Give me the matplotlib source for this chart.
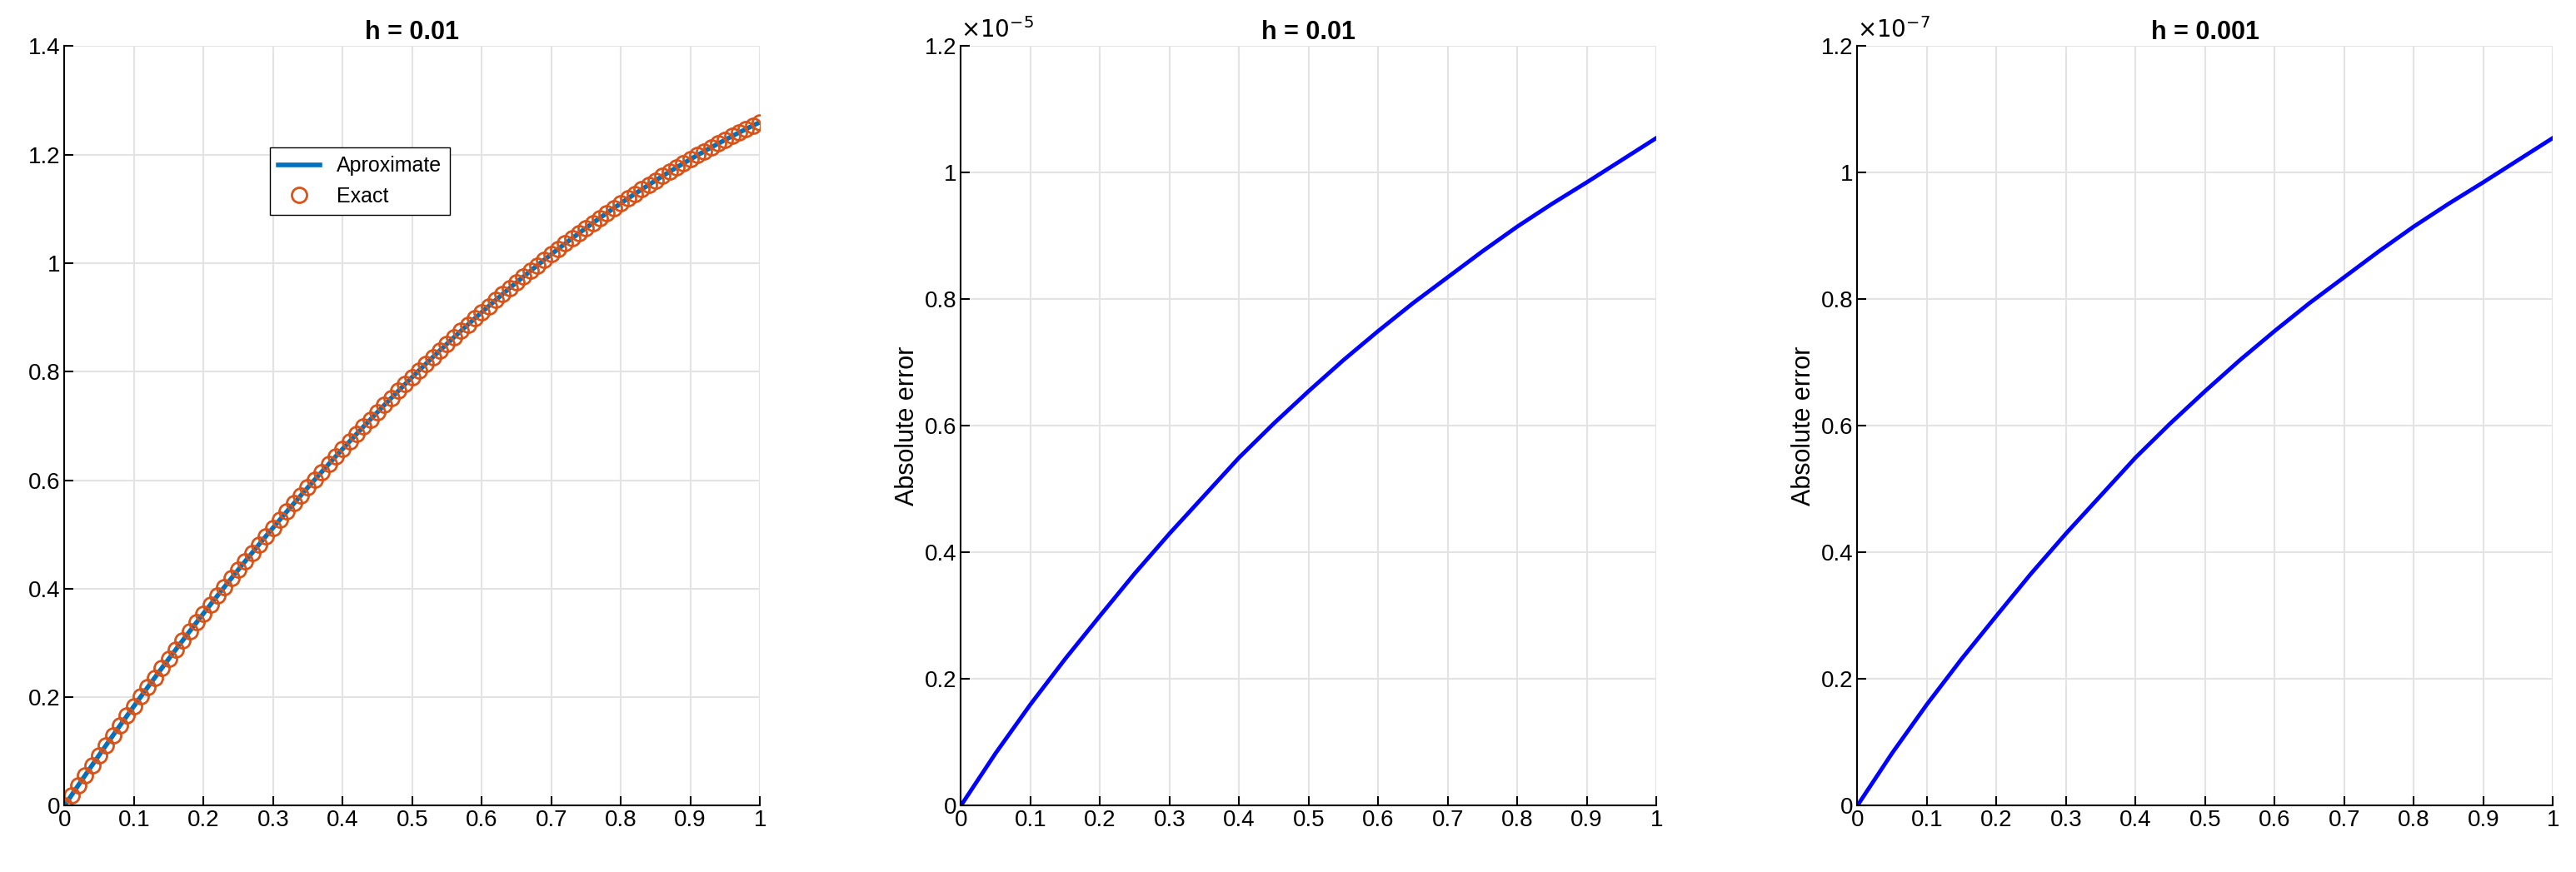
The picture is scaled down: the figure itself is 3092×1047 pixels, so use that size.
import numpy as np
import matplotlib.pyplot as plt

# solution sampled at h = 0.01
x_sol = [k / 100 for k in range(101)]
y_sol = [0, .0189, .0377, .0564, .0750, .0934, .1117, .1299, .1479, .1658, .1836,
         .2013, .2188, .2362, .2535, .2706, .2876, .3045, .3213, .3379, .3544,
         .3708, .3870, .4031, .4191, .4350, .4507, .4663, .4818, .4972, .5124,
         .5275, .5425, .5573, .5720, .5866, .6011, .6154, .6296, .6437, .6576,
         .6714, .6851, .6987, .7121, .7254, .7386, .7516, .7645, .7773, .7900,
         .8025, .8149, .8272, .8394, .8514, .8633, .8751, .8867, .8982, .9096,
         .9209, .9320, .9430, .9539, .9646, .9752, .9857, .9961, 1.0063, 1.0164,
         1.0264, 1.0362, 1.0459, 1.0555, 1.0650, 1.0743, 1.0835, 1.0926, 1.1016, 1.1104,
         1.1191, 1.1277, 1.1361, 1.1444, 1.1526, 1.1607, 1.1686, 1.1764, 1.1841, 1.1916,
         1.1990, 1.2063, 1.2135, 1.2205, 1.2274, 1.2342, 1.2408, 1.2473, 1.2537, 1.2600]

# absolute error (scaled)
x_err = [k / 20 for k in range(21)]
err_1 = [0, .083, .16, .232, .30, .367, .43, .49, .55, .604, .655,
         .704, .75, .794, .835, .876, .915, .951, .985, 1.02, 1.055]   # x 1e-5
err_2 = [0, .083, .16, .232, .30, .367, .43, .49, .55, .604, .655,
         .704, .75, .794, .835, .876, .915, .951, .985, 1.02, 1.055]   # x 1e-7

fig = plt.figure(figsize=(30.92, 10.47), dpi=100)
plt.rcParams['font.family'] = ['Liberation Sans', 'DejaVu Sans']

def style(ax, ymax):
    ax.set_xlim(0, 1)
    ax.set_ylim(0, ymax)
    ax.set_xticks(np.arange(0, 1.01, 0.1))
    ax.set_xticklabels(['0', '0.1', '0.2', '0.3', '0.4', '0.5', '0.6', '0.7', '0.8', '0.9', '1'])
    ax.grid(True, color='#e3e3e3', linewidth=1.5)
    ax.set_axisbelow(True)
    for s in ['top', 'right']:
        ax.spines[s].set_visible(False)
    for s in ['left', 'bottom']:
        ax.spines[s].set_linewidth(1.5)
    ax.tick_params(direction='in', labelsize=20, length=8, width=1.5)

ax1 = fig.add_axes([0.025, 0.076, 0.270, 0.871])
ax1.plot(x_sol, y_sol, color='#0072bd', linewidth=4, label='Aproximate')
ax1.plot(x_sol, y_sol, 'o', mfc='none', mec='#d95319', ms=13, mew=2, label='Exact')
style(ax1, 1.4)
ax1.set_yticks(np.arange(0, 1.41, 0.2))
ax1.set_yticklabels(['0', '0.2', '0.4', '0.6', '0.8', '1', '1.2', '1.4'])
ax1.set_title('h = 0.01', fontsize=22, fontweight='bold')
ax1.legend(loc='upper left', bbox_to_anchor=(0.28, 0.88), fontsize=18, frameon=True,
           fancybox=False, edgecolor='black', framealpha=1)

for pos, err, title, exp in [([0.373, 0.076, 0.270, 0.871], err_1, 'h = 0.01', '-5'),
                             ([0.721, 0.076, 0.270, 0.871], err_2, 'h = 0.001', '-7')]:
    ax = fig.add_axes(pos)
    ax.plot(x_err, err, color='#0000ff', linewidth=3.5)
    style(ax, 1.2)
    ax.set_yticks(np.arange(0, 1.21, 0.2))
    ax.set_yticklabels(['0', '0.2', '0.4', '0.6', '0.8', '1', '1.2'])
    ax.set_ylabel('Absolute error', fontsize=22)
    ax.set_title(title, fontsize=22, fontweight='bold')
    ax.text(0.0, 1.005, r'$\times10^{%s}$' % exp, transform=ax.transAxes, fontsize=20,
            va='bottom', ha='left')

fig.savefig('out.png', dpi=100)
